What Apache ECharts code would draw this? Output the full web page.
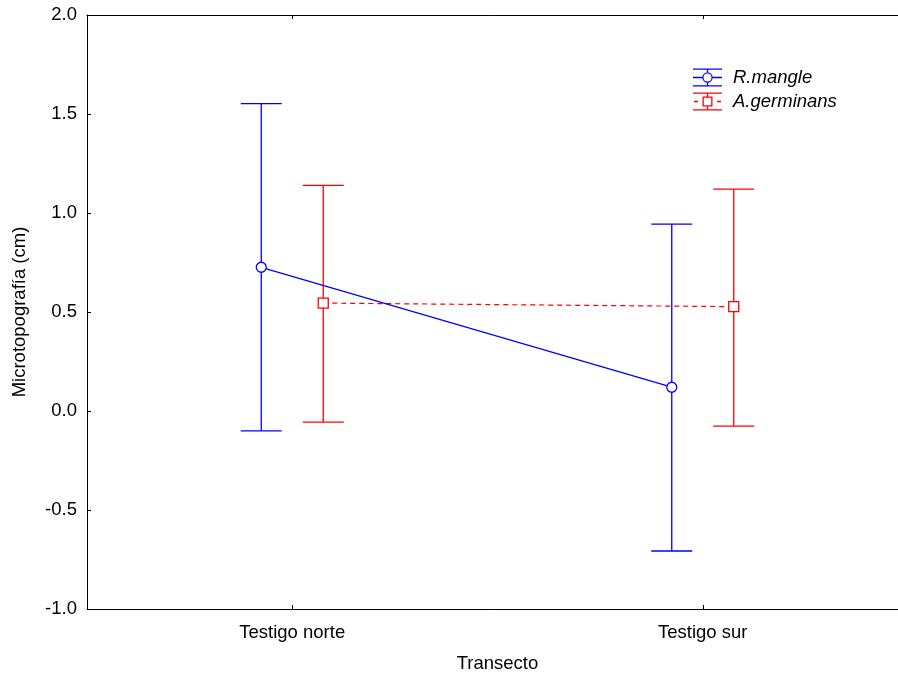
<!DOCTYPE html>
<html>
<head>
<meta charset="utf-8">
<title>Microtopografía por transecto</title>
<script src="https://cdn.jsdelivr.net/npm/echarts@6/dist/echarts.min.js"></script>
<style>
  html, body { margin: 0; padding: 0; background: #fff; }
  #chart { width: 898px; height: 674px; }
</style>
</head>
<body>
<div id="chart"></div>
<script>
// Transects on the x axis
const categories = ['Testigo norte', 'Testigo sur'];

// Rhizophora mangle: mean and interval bounds (cm)
const rMangleMean = [0.726, 0.12];
const rMangleLow = [-0.10, -0.707];
const rMangleHigh = [1.552, 0.944];

// Avicennia germinans: mean and interval bounds (cm)
const aGermMean = [0.545, 0.527];
const aGermLow = [-0.056, -0.076];
const aGermHigh = [1.14, 1.121];

// Y axis ticks
const yMin = -1.0, yMax = 2.0, yStep = 0.5;

const FONT = '"Liberation Sans", Arial, Helvetica, sans-serif';
const FONT_SIZE = 18.5;
const BLUE = '#0000ff';
const RED = '#ff0000';
const DODGE = 0.0755;      // horizontal shift of each group within a transect
const CAP_HALF = 20.5;     // half width of error bar caps, px

// x position (on the hidden value axis) of a transect's series
const xPos = (i, shift) => i + 0.5 + shift;

const meanPoints = (means, shift) => means.map((v, i) => [xPos(i, shift), v]);
const barPoints = (lows, highs, shift) => lows.map((lo, i) => [xPos(i, shift), lo, highs[i]]);

function errorBarRenderer(color) {
  return function (params, api) {
    const x = api.value(0);
    const lo = api.coord([x, api.value(1)]);
    const hi = api.coord([x, api.value(2)]);
    const style = { stroke: color, lineWidth: 1.3, fill: null };
    return {
      type: 'group',
      children: [
        { type: 'line', shape: { x1: lo[0], y1: lo[1], x2: hi[0], y2: hi[1] }, style },
        { type: 'line', shape: { x1: hi[0] - CAP_HALF, y1: hi[1], x2: hi[0] + CAP_HALF, y2: hi[1] }, style },
        { type: 'line', shape: { x1: lo[0] - CAP_HALF, y1: lo[1], x2: lo[0] + CAP_HALF, y2: lo[1] }, style }
      ]
    };
  };
}

// Legend glyphs: caps, stem and marker drawn as filled outlines (29 x 18 box)
const capsAndStem =
  'M0 0 H29 V1.3 H0 Z M0 16.7 H29 V18 H0 Z ' +
  'M13.85 1 H15.15 V4 H13.85 Z M13.85 14 H15.15 V17 H13.85 Z ';
const circleIcon = 'path://' + capsAndStem +
  'M0 8.35 H9.3 V9.65 H0 Z M19.7 8.35 H29 V9.65 H19.7 Z ' +
  'M19.7 9 A5.2 5.2 0 1 0 9.3 9 A5.2 5.2 0 1 0 19.7 9 Z ' +
  'M18.5 9 A4 4 0 1 1 10.5 9 A4 4 0 1 1 18.5 9 Z';
const squareIcon = 'path://' + capsAndStem +
  'M1 8.35 H5 V9.65 H1 Z M24 8.35 H28 V9.65 H24 Z ' +
  'M9.5 4 H19.5 V14 H9.5 Z M10.8 5.3 V12.7 H18.2 V5.3 Z';

const chart = echarts.init(document.getElementById('chart'), null, { renderer: 'canvas' });

const axisLine = { show: true, onZero: false, lineStyle: { color: '#000', width: 1 } };

chart.setOption({
  animation: false,
  backgroundColor: '#fff',
  textStyle: { fontFamily: FONT },
  grid: { left: 87, top: 15, width: 821, height: 594, containLabel: false, outerBoundsMode: 'none' },
  legend: {
    orient: 'vertical',
    left: 693,
    top: 68,
    padding: 0,
    itemGap: 5,
    itemWidth: 29,
    itemHeight: 18,
    selectedMode: false,
    textStyle: { fontFamily: FONT, fontSize: FONT_SIZE, fontStyle: 'italic', color: '#000', padding: [0, 0, 0, 6], lineHeight: 18 },
    data: [
      { name: 'R.mangle', icon: circleIcon, itemStyle: { color: BLUE, borderWidth: 0 } },
      { name: 'A.germinans', icon: squareIcon, itemStyle: { color: RED, borderWidth: 0 } }
    ]
  },
  xAxis: [
    {
      type: 'category',
      data: categories,
      position: 'bottom',
      boundaryGap: true,
      axisLine,
      axisTick: { show: true, inside: true, length: 4, alignWithLabel: true, lineStyle: { color: '#000' } },
      axisLabel: { fontFamily: FONT, fontSize: FONT_SIZE, color: '#000', margin: 14 },
      splitLine: { show: false },
      name: 'Transecto',
      nameLocation: 'middle',
      nameGap: 45,
      nameTextStyle: { fontFamily: FONT, fontSize: FONT_SIZE, color: '#000' }
    },
    {
      type: 'category',
      data: categories,
      position: 'top',
      boundaryGap: true,
      axisLine,
      axisTick: { show: true, inside: true, length: 4, alignWithLabel: true, lineStyle: { color: '#000' } },
      axisLabel: { show: false },
      splitLine: { show: false }
    },
    {
      type: 'value',
      min: 0,
      max: 2,
      show: false,
      splitLine: { show: false }
    }
  ],
  yAxis: {
    type: 'value',
    min: yMin,
    max: yMax,
    interval: yStep,
    axisLine,
    axisTick: { show: true, inside: true, length: 4, lineStyle: { color: '#000' } },
    axisLabel: {
      fontFamily: FONT, fontSize: FONT_SIZE, color: '#000', margin: 10,
      formatter: v => v.toFixed(1)
    },
    splitLine: { show: false },
    name: 'Microtopografía (cm)',
    nameLocation: 'middle',
    nameGap: 58,
    nameTextStyle: { fontFamily: FONT, fontSize: FONT_SIZE, color: '#000' }
  },
  series: [
    {
      name: 'R.mangle',
      type: 'custom',
      xAxisIndex: 2,
      renderItem: errorBarRenderer(BLUE),
      data: barPoints(rMangleLow, rMangleHigh, -DODGE),
      encode: { x: 0, y: [1, 2] },
      z: 1,
      silent: true
    },
    {
      name: 'A.germinans',
      type: 'custom',
      xAxisIndex: 2,
      renderItem: errorBarRenderer(RED),
      data: barPoints(aGermLow, aGermHigh, DODGE),
      encode: { x: 0, y: [1, 2] },
      z: 1,
      silent: true
    },
    {
      name: 'A.germinans',
      type: 'line',
      xAxisIndex: 2,
      data: meanPoints(aGermMean, DODGE),
      symbol: 'rect',
      symbolSize: 10,
      showAllSymbol: true,
      lineStyle: { color: RED, width: 1.2, type: [5, 4] },
      itemStyle: { color: '#fff', borderColor: RED, borderWidth: 1.3 },
      z: 3
    },
    {
      name: 'R.mangle',
      type: 'line',
      xAxisIndex: 2,
      data: meanPoints(rMangleMean, -DODGE),
      symbol: 'circle',
      symbolSize: 10,
      showAllSymbol: true,
      lineStyle: { color: BLUE, width: 1.3 },
      itemStyle: { color: '#fff', borderColor: BLUE, borderWidth: 1.3 },
      z: 4
    }
  ]
});
</script>
</body>
</html>
